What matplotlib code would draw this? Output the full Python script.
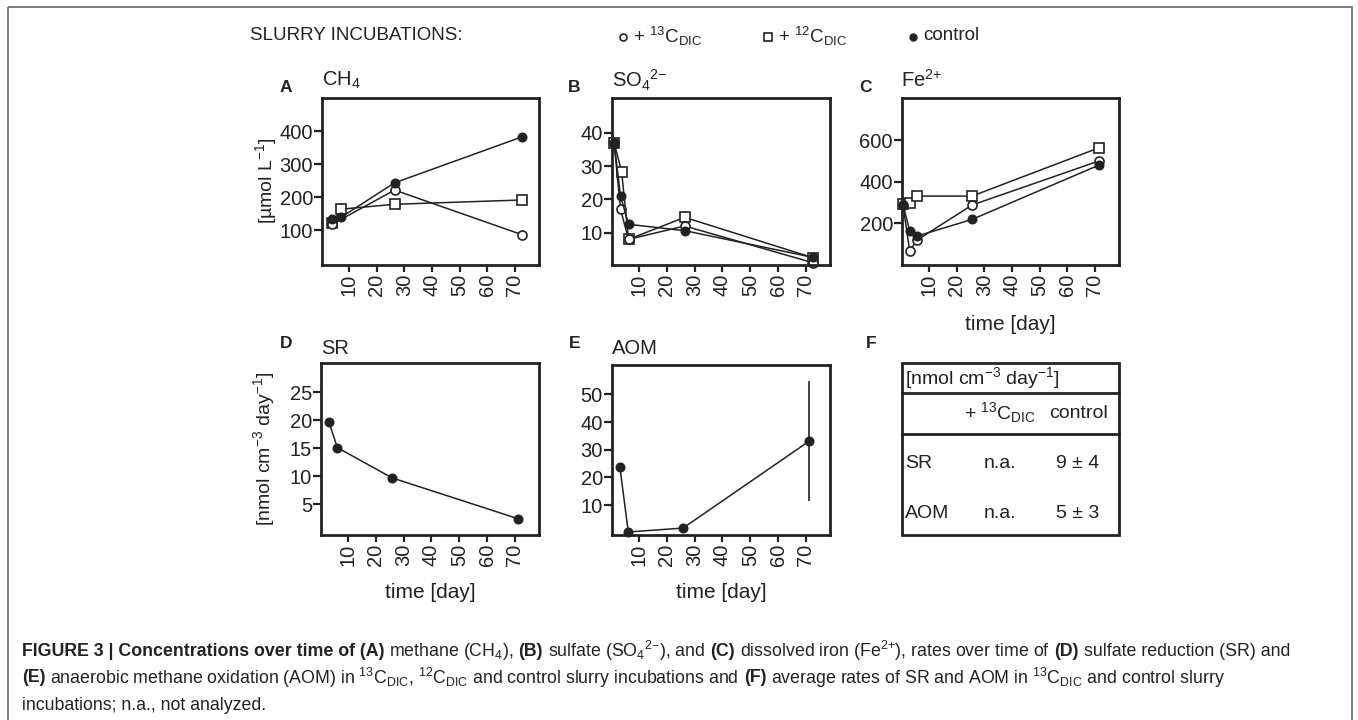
import matplotlib
matplotlib.use("Agg")
import matplotlib.pyplot as plt
from matplotlib.patches import Rectangle

plt.rcParams['font.family'] = ['Liberation Sans', 'DejaVu Sans']
plt.rcParams['mathtext.fontset'] = 'custom'
plt.rcParams['mathtext.rm'] = 'Liberation Sans'
plt.rcParams['mathtext.it'] = 'Liberation Sans:italic'
plt.rcParams['mathtext.bf'] = 'Liberation Sans:bold'
plt.rcParams['mathtext.default'] = 'regular'

# --- data ---
day_ticks = [10, 20, 30, 40, 50, 60, 70]

# A : CH4 [umol L-1]
ch4_days_c13 = [4, 26.5, 72.5]
ch4_c13 = [118, 221, 86]
ch4_days = [4, 7, 26.5, 72.5]
ch4_c12 = [120, 163, 178, 191]
ch4_ctrl = [134, 138, 243, 382]

# B : SO4 2-
so4_days_c13 = [1, 3.3, 6.2, 26.4, 72.5]
so4_c13 = [37, 17, 8, 12, 1]
so4_days_c12 = [1, 3.7, 6.2, 26.4, 72.5]
so4_c12 = [37, 28.3, 8, 14.6, 2.5]
so4_days_ctrl = [1, 3.3, 6.2, 26.4, 72.5]
so4_ctrl = [37, 21, 12.5, 10.6, 2.6]

# C : Fe 2+
fe_days = [0.6, 3.0, 5.7, 25.6, 71.5]
fe_c13 = [288, 69, 120, 288, 500]
fe_c12 = [293, 299, 331, 331, 563]
fe_ctrl = [290, 165, 139, 219, 480]

# D, E : rates, control only
rate_days = [3.1, 6.1, 25.8, 71.2]
sr_ctrl = [19.7, 15.1, 9.7, 2.4]
aom_ctrl = [23.6, 0.3, 1.7, 33.1]
aom_err = [0, 0, 0, 21.6]

# F : average rates table
table_rows = ["SR", "AOM"]
table_c13 = ["n.a.", "n.a."]
table_ctrl = ["9 ± 4", "5 ± 3"]

W, H = 1358, 720
fig = plt.figure(figsize=(W / 100, H / 100), dpi=100)

# full-figure overlay in pixel coords for labels, legend, table, caption
bg = fig.add_axes([0, 0, 1, 1])
bg.set_xlim(0, W)
bg.set_ylim(H, 0)
bg.axis('off')

INK = '#222222'


def px_axes(x0, y0, x1, y1):
    return fig.add_axes([x0 / W, 1 - y1 / H, (x1 - x0) / W, (y1 - y0) / H])


def style(ax, ylim, yticks):
    ax.set_xlim(0.24, 78.7)
    ax.set_ylim(*ylim)
    ax.set_xticks(day_ticks)
    ax.set_yticks(yticks)
    ax.tick_params(axis='x', labelrotation=90, length=5, width=1.6, pad=1.5, labelsize=14.5, colors=INK)
    ax.tick_params(axis='y', length=6, width=1.6, pad=0.5, labelsize=14.5, colors=INK)
    for s in ax.spines.values():
        s.set_linewidth(2)
        s.set_color(INK)


def series(ax, x, y, marker, filled, ms):
    ax.plot(x, y, '-', color=INK, lw=1.1, marker=marker, ms=ms,
            mfc=INK if filled else 'white', mec=INK, mew=1.2, clip_on=False)


# --- top row ---
axA = px_axes(322, 98, 539, 265)
series(axA, ch4_days, ch4_c12, 's', False, 7.5)
series(axA, ch4_days_c13, ch4_c13, 'o', False, 6.5)
series(axA, ch4_days, ch4_ctrl, 'o', True, 6)
style(axA, (-6, 500), [100, 200, 300, 400])

axB = px_axes(612, 98, 830, 265)
series(axB, so4_days_c12, so4_c12, 's', False, 7.5)
series(axB, so4_days_c13, so4_c13, 'o', False, 6.5)
series(axB, so4_days_ctrl, so4_ctrl, 'o', True, 6)
style(axB, (0.3, 50.4), [10, 20, 30, 40])

axC = px_axes(902, 98, 1119, 265)
series(axC, fe_days, fe_c12, 's', False, 7.5)
series(axC, fe_days, fe_c13, 'o', False, 6.5)
series(axC, fe_days, fe_ctrl, 'o', True, 6)
style(axC, (0, 802), [200, 400, 600])

# --- bottom row ---
axD = px_axes(321, 363, 539, 535)
series(axD, rate_days, sr_ctrl, 'o', True, 6)
style(axD, (-0.5, 30.2), [5, 10, 15, 20, 25])

axE = px_axes(612, 365, 830, 535)
axE.errorbar(rate_days, aom_ctrl, yerr=aom_err, fmt='none', ecolor=INK, elinewidth=1.2, capsize=0)
series(axE, rate_days, aom_ctrl, 'o', True, 6)
style(axE, (-0.8, 60.6), [10, 20, 30, 40, 50])

# panel letters and titles
for letter, lx, ly in [("A", 280, 88), ("B", 568, 88), ("C", 859, 88),
                       ("D", 280, 343), ("E", 569, 343), ("F", 866, 343)]:
    bg.text(lx, ly, letter, fontsize=12.5, fontweight='bold', ha='left', va='center', color=INK)

for title, tx, ty in [("CH$_4$", 322, 80), ("SO$_4$$^{2{-}}$", 612, 80), ("Fe$^{2{+}}$", 901, 80),
                      ("SR", 321, 348), ("AOM", 612, 348)]:
    bg.text(tx, ty, title, fontsize=14.5, ha='left', va='center', color=INK)

bg.text(266, 181, "[µmol L$^{-1}$]", fontsize=14, rotation=90, ha='center', va='center', color=INK)
bg.text(264, 449, "[nmol cm$^{-3}$ day$^{-1}$]", fontsize=14, rotation=90, ha='center', va='center', color=INK)
for cx, cy in [(1010, 325), (430, 592), (721, 592)]:
    bg.text(cx, cy, "time [day]", fontsize=15, ha='center', va='center', color=INK)

# legend row
bg.text(250, 36, "SLURRY INCUBATIONS:", fontsize=13.5, ha='left', va='center', color=INK)
bg.plot([623], [37], 'o', ms=5, mfc='white', mec=INK, mew=1.2)
bg.text(633, 36, "+ $^{13}$C$_{DIC}$", fontsize=13.5, ha='left', va='center', color=INK)
bg.plot([768], [37], 's', ms=5.5, mfc='white', mec=INK, mew=1.2)
bg.text(778, 36, "+ $^{12}$C$_{DIC}$", fontsize=13.5, ha='left', va='center', color=INK)
bg.plot([913], [37], 'o', ms=5, mfc=INK, mec=INK)
bg.text(923, 36, "control", fontsize=13.5, ha='left', va='center', color=INK)

# panel F table
bg.add_patch(Rectangle((902, 363), 217, 172, fill=False, lw=2, ec=INK))
bg.plot([902, 1119], [393, 393], color=INK, lw=2)
bg.plot([902, 1119], [434, 434], color=INK, lw=2)
bg.text(905, 378, "[nmol cm$^{-3}$ day$^{-1}$]", fontsize=14, ha='left', va='center', color=INK)
bg.text(1000, 413, "+ $^{13}$C$_{DIC}$", fontsize=14, ha='center', va='center', color=INK)
bg.text(1078, 413, "control", fontsize=14, ha='center', va='center', color=INK)
for i, name in enumerate(table_rows):
    ry = 463 + 50 * i
    bg.text(905, ry, name, fontsize=14, ha='left', va='center', color=INK)
    bg.text(1000, ry, table_c13[i], fontsize=14, ha='center', va='center', color=INK)
    bg.text(1078, ry, table_ctrl[i], fontsize=14, ha='center', va='center', color=INK)

# outer frame
bg.add_patch(Rectangle((8, 7), 1344, 725, fill=False, lw=1.2, ec='#666666', clip_on=False))

# caption, drawn piece by piece so bold and regular runs can mix
caption = [
    [("FIGURE 3 | Concentrations over time of (A)", 'bold'), ("methane (CH$_4$),", 'normal'),
     ("(B)", 'bold'), ("sulfate (SO$_4$$^{2{-}}$), and", 'normal'), ("(C)", 'bold'),
     ("dissolved iron (Fe$^{2{+}}$), rates over time of", 'normal'), ("(D)", 'bold'),
     ("sulfate reduction (SR) and", 'normal')],
    [("(E)", 'bold'),
     ("anaerobic methane oxidation (AOM) in $^{13}$C$_{DIC}$, $^{12}$C$_{DIC}$ and control slurry incubations and", 'normal'),
     ("(F)", 'bold'), ("average rates of SR and AOM in $^{13}$C$_{DIC}$ and control slurry", 'normal')],
    [("incubations; n.a., not analyzed.", 'normal')],
]
cap_size = 12.8
renderer = fig.canvas.get_renderer()
sp = bg.text(0, 0, "a a", fontsize=cap_size)
sp2 = bg.text(0, 0, "aa", fontsize=cap_size)
space_w = sp.get_window_extent(renderer).width - sp2.get_window_extent(renderer).width
sp.remove()
sp2.remove()
for li, parts in enumerate(caption):
    x = 22
    y = 651 + 27 * li
    for txt, w in parts:
        t = bg.text(x, y, txt, fontsize=cap_size, fontweight=w, ha='left', va='center', color=INK)
        x += t.get_window_extent(renderer).width + space_w

fig.savefig("out.png", dpi=100)
